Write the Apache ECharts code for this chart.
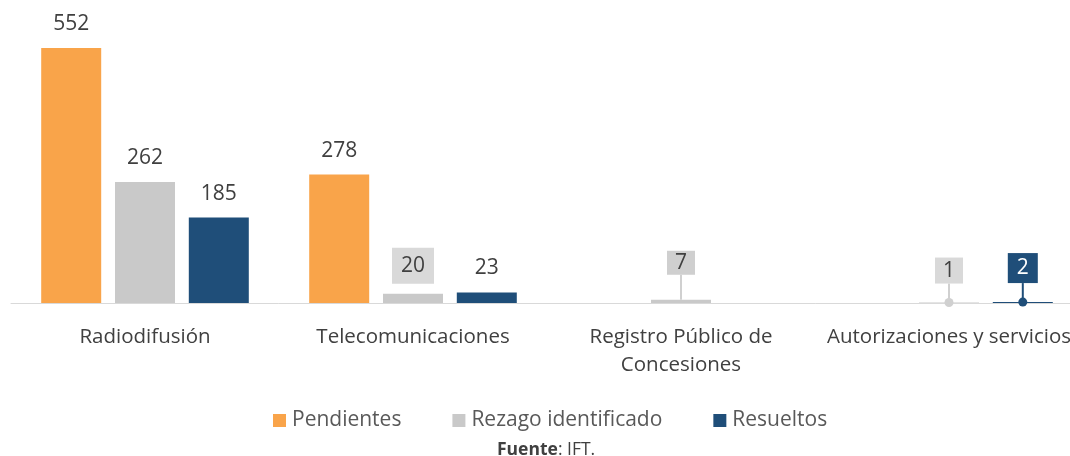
<!DOCTYPE html>
<html>
<head>
<meta charset="utf-8">
<script src="https://cdn.jsdelivr.net/npm/echarts@6/dist/echarts.min.js"></script>
<style>
  html, body { margin: 0; padding: 0; background: #fff; overflow: hidden; }
  /* plot runs past the right edge, as in the original (last label is cut) */
  #main { width: 1083px; height: 456px; }
</style>
</head>
<body>
<div id="main"></div>
<script>
const categories = ["Radiodifusión", "Telecomunicaciones", "Registro Público de\nConcesiones", "Autorizaciones y servicios"];
const seriesNames = ["Pendientes", "Rezago identificado", "Resueltos"];
const pendientes = [552, 278, null, null];
const rezago = [262, 20, 7, 1];
const resueltos = [185, 23, null, 2];

const colors = ["#F9A44A", "#C9C9C9", "#1F4E79"];
const FONT = "Open Sans";

// callouts: "series-data" -> label box style + lift
const callouts = {
  "1-1": { box: "#D9D9D9", pad: [6, 9], dy: 2, line: false },
  "1-2": { box: "#CFCFCF", pad: [0, 8], dy: -13, line: true },
  "1-3": { box: "#D9D9D9", pad: [1, 8], dy: -7, line: true },
  "2-3": { box: "#1F4E79", pad: [3, 9], dy: -7, line: true, text: "#fff" }
};

function buildData(si, arr) {
  return arr.map(function (v, di) {
    const c = callouts[si + "-" + di];
    if (v === null) return { value: null, label: { show: false } };
    if (!c) return v;
    return {
      value: v,
      label: { backgroundColor: c.box, padding: c.pad, color: c.text || "#404040" },
      labelLine: { show: c.line, lineStyle: { color: si === 2 ? colors[2] : "#D0D0D0", width: 2 } }
    };
  });
}

const chart = echarts.init(document.getElementById("main"));
const lists = [pendientes, rezago, resueltos];

chart.setOption({
  animation: false,
  textStyle: { fontFamily: FONT },
  title: {
    text: "{b|Fuente}: IFT.",
    left: 497,
    top: 441,
    padding: 0,
    textStyle: {
      fontFamily: FONT, fontSize: 17.5, color: "#404040", fontWeight: "normal",
      rich: { b: { fontFamily: FONT, fontSize: 17.5, fontWeight: "bold", color: "#404040" } }
    }
  },
  legend: {
    top: 405,
    left: 268,
    itemWidth: 13,
    itemHeight: 13,
    itemGap: 51,
    icon: "rect",
    textStyle: { fontFamily: FONT, fontSize: 21, color: "#595959", padding: [0, 0, 0, 1] },
    data: seriesNames
  },
  grid: { left: 11, right: 0, top: 48, height: 255 },
  xAxis: {
    type: "category",
    data: categories,
    axisLine: { lineStyle: { color: "#D9D9D9", width: 1 } },
    axisTick: { show: false },
    axisLabel: { interval: 0, fontFamily: FONT, fontSize: 20.5, color: "#404040", margin: 20, lineHeight: 28 }
  },
  yAxis: { type: "value", min: 0, max: 552, show: false, splitLine: { show: false } },
  series: lists.map(function (arr, si) {
    const s = {
      name: seriesNames[si],
      type: "bar",
      barWidth: 60,
      barGap: "23%",
      itemStyle: { color: colors[si] },
      label: { show: true, position: "top", distance: 12, fontFamily: FONT, fontSize: 21, lineHeight: 24, color: "#404040" },
      labelLine: { show: false },
      labelLayout: function (p) {
        const c = callouts[p.seriesIndex + "-" + p.dataIndex];
        return c ? { dy: c.dy } : {};
      },
      data: buildData(si, arr)
    };
    if (si === 1) {
      s.markPoint = {
        symbol: "circle", symbolSize: 9, label: { show: false },
        itemStyle: { color: "#D0D0D0" },
        data: [{ coord: [3, rezago[3]] }]
      };
    }
    if (si === 2) {
      s.markPoint = {
        symbol: "circle", symbolSize: 9, label: { show: false },
        itemStyle: { color: colors[2] },
        data: [{ coord: [3, resueltos[3]] }]
      };
    }
    return s;
  })
});
</script>
</body>
</html>
